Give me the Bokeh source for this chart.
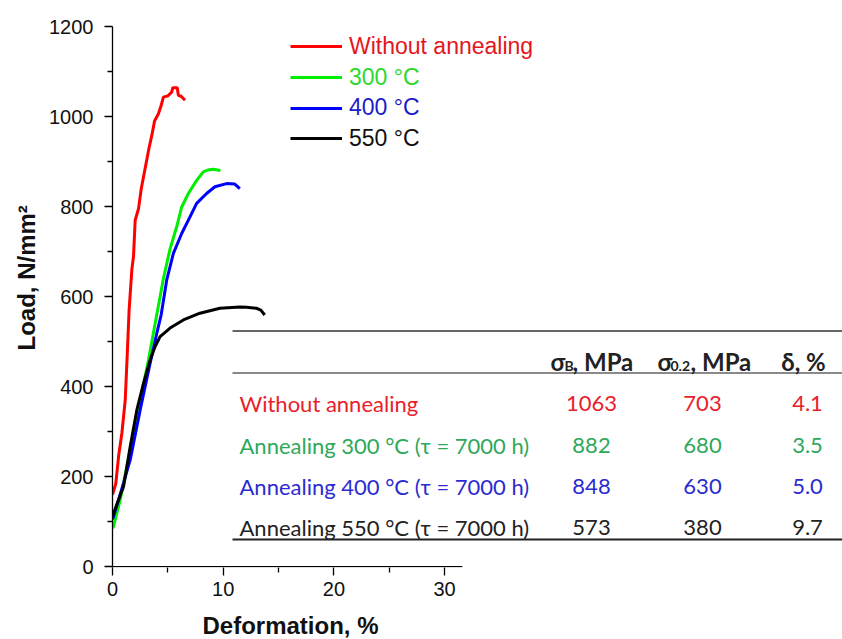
import numpy as np
from bokeh.plotting import figure
from bokeh.models import Range1d, FixedTicker, Legend, LegendItem, Label, Title
from bokeh.embed import file_html
from bokeh.resources import INLINE

# ---------------- data ----------------
red_x = [0, 0.1, 0.3, 0.55, 0.85, 1.15, 1.35, 1.5, 1.75, 1.9, 2.05, 2.35, 2.6, 2.95, 3.3, 3.55,
         3.8, 4.15, 4.4, 4.6, 5.0, 5.35, 5.45, 5.85, 5.95, 6.2, 6.55]
red_y = [160, 168, 185, 245, 297, 370, 481, 570, 660, 690, 770, 795, 840, 885, 930, 958,
         990, 1006, 1025, 1043, 1046, 1054, 1064, 1064, 1047, 1045, 1036]

green_x = [0, 0.1, 0.7, 1.6, 2.5, 3.25, 4.0, 4.6, 5.2, 5.8, 6.25, 6.85, 7.6, 8.2, 8.6, 9.1, 9.75]
green_y = [85, 90, 149, 260, 370, 459, 560, 640, 706, 755, 799, 829, 858, 877, 881, 883, 880]

blue_x = [0, 0.1, 1.0, 1.6, 2.5, 3.4, 4.0, 4.4, 4.9, 5.5, 6.25, 7.0, 7.6, 8.5, 9.25, 10.3, 11.05, 11.5]
blue_y = [105, 112, 186, 237, 348, 452, 518, 560, 637, 696, 740, 777, 807, 829, 844, 851, 850, 840]

black_x = [0, 0.1, 1.0, 1.6, 2.2, 2.8, 3.4, 3.85, 4.3, 5.2, 6.4, 7.9, 9.7, 11.5, 12.1, 13.0, 13.4, 13.75]
black_y = [110, 119, 178, 267, 348, 407, 459, 489, 511, 530, 548, 563, 574, 577, 576, 574, 570, 559]

legend_labels = ["Without annealing", "300 °C", "400 °C", "550 °C"]

x_ticks = [0, 10, 20, 30]
x_minor = [5, 15, 25]
y_ticks = [0, 200, 400, 600, 800, 1000, 1200]
y_minor = [100, 300, 500, 700, 900, 1100]

table_rows = ["Without annealing", "Annealing 300 °C (τ = 7000 h)",
              "Annealing 400 °C (τ = 7000 h)", "Annealing 550 °C (τ = 7000 h)"]
sigma_b = ["1063", "882", "848", "573"]
sigma_02 = ["703", "680", "630", "380"]
delta = ["4.1", "3.5", "5.0", "9.7"]

# ---------------- styles / layout ----------------
line_colors = ["#ff0000", "#00ee00", "#0000ff", "#000000"]
legend_text_colors = ["#e3161e", "#2cd82c", "#1c1cc8", "#111111"]
table_colors = ["#e8202a", "#2ea85b", "#2b2bd1", "#222222"]

W, H = 842, 639
LEFT, TOP, BOTTOM, RIGHT = 112, 26, 72, 0
Y_START, Y_END = -2, 1200
PX_PER_X = 11.07
FRAME_W = W - LEFT - RIGHT
FRAME_H = H - TOP - BOTTOM
X_END = FRAME_W / PX_PER_X
X_AXIS_END = 31.6

# page pixel -> data helpers (the page has no body margin)
FX0 = LEFT
FY_TOP = TOP
FY_BOT = FY_TOP + FRAME_H


def dx(px):
    return (px - FX0) / FRAME_W * X_END


def dy(py):
    return Y_START + (FY_BOT - py) / FRAME_H * (Y_END - Y_START)


ARIAL = "Liberation Sans"
TFONT = "Lato"

p = figure(width=W, height=H, output_backend="svg", toolbar_location=None,
           x_range=Range1d(0, X_END), y_range=Range1d(Y_START, Y_END),
           min_border_left=LEFT, min_border_right=RIGHT,
           min_border_top=TOP, min_border_bottom=BOTTOM)
p.outline_line_color = None
p.xgrid.visible = False
p.ygrid.visible = False

# axes
p.xaxis.ticker = FixedTicker(ticks=x_ticks, minor_ticks=x_minor)
p.yaxis.ticker = FixedTicker(ticks=y_ticks, minor_ticks=y_minor)
for ax in (p.xaxis[0], p.yaxis[0]):
    ax.major_tick_out = 8
    ax.major_tick_in = 0
    ax.minor_tick_out = 5
    ax.minor_tick_in = 0
    ax.major_tick_line_color = "black"
    ax.minor_tick_line_color = "black"
    ax.major_tick_line_width = 1.3
    ax.minor_tick_line_width = 1.3
    ax.major_label_text_font = ARIAL
    ax.major_label_text_font_size = "20px"
    ax.major_label_text_color = "#111111"
p.xaxis.axis_line_color = None
p.xaxis.major_label_standoff = 6
# reserve a little extra room under the tick labels so the title below sits lower
p.xaxis.axis_label = " "
p.xaxis.axis_label_text_font_size = "2px"
p.xaxis.axis_label_standoff = 6
p.yaxis.major_label_standoff = 11
p.yaxis.axis_line_color = "black"
p.yaxis.axis_line_width = 1.3

# x axis line only up to 31.6
p.line(x=[0, X_AXIS_END], y=[0, 0], line_color="black", line_width=1.4)

# axis titles (as side titles so they can be offset like the reference)
p.add_layout(Title(text="Deformation, %", align="left", offset=90, standoff=0,
                   text_font=ARIAL, text_font_style="bold", text_font_size="24px",
                   text_color="#111111"), "below")
p.add_layout(Title(text="Load, N/mm²", align="left", offset=217, standoff=14,
                   text_font=ARIAL, text_font_style="bold", text_font_size="24px",
                   text_color="#111111"), "left")

# curves
series = [(red_x, red_y), (green_x, green_y), (blue_x, blue_y), (black_x, black_y)]
renderers = []
for (xs, ys), c in zip(series, line_colors):
    r = p.line(x=xs, y=ys, line_color=c, line_width=3)
    renderers.append(r)

# legend: one Legend per item so that each label can have its own colour
legend_row_centers = [46.5, 77.5, 108, 138.5]
ITEM_H = 26
for i, r in enumerate(renderers):
    yc = legend_row_centers[i]
    leg = Legend(items=[LegendItem(label=legend_labels[i], renderers=[r])],
                 location=(290 - FX0, FY_BOT - (yc + ITEM_H / 2)),
                 margin=0, padding=0, spacing=0,
                 glyph_width=52, glyph_height=ITEM_H, label_height=ITEM_H,
                 label_standoff=7, border_line_alpha=0, background_fill_alpha=0,
                 label_text_font=ARIAL, label_text_font_size="23px",
                 label_text_color=legend_text_colors[i], label_text_baseline="middle")
    p.add_layout(leg)

# table
TX0 = 232
p.segment(x0=[dx(TX0)], y0=[dy(330.5)], x1=[X_END], y1=[dy(330.5)], line_color="#333333", line_width=1.5)
p.segment(x0=[dx(TX0)], y0=[dy(372.5)], x1=[X_END], y1=[dy(372.5)], line_color="#8a8a8a", line_width=2)
p.segment(x0=[dx(TX0)], y0=[dy(539)], x1=[X_END], y1=[dy(539)], line_color="#222222", line_width=2)

HB = 361  # header baseline


def tlabel(px, py, text, color="#222222", size="22px", style="normal", align="left"):
    p.add_layout(Label(x=dx(px), y=dy(py), text=text, text_font=TFONT,
                       text_font_size=size, text_font_style=style, text_color=color,
                       text_align=align, text_baseline="alphabetic"))


tlabel(550, HB, "σ", size="24px", style="bold")
tlabel(564, HB + 4, "B", size="14px", style="bold")
tlabel(572, HB, ", MPa", size="24px", style="bold")
tlabel(657, HB, "σ", size="24px", style="bold")
tlabel(670, HB + 4, "0.2", size="14px", style="bold")
tlabel(690, HB, ", MPa", size="24px", style="bold")
tlabel(803, HB, "δ, %", size="24px", style="bold", align="center")

row_baselines = [403, 444.5, 486, 527]
for i in range(4):
    yb = row_baselines[i]
    c = table_colors[i]
    tlabel(239, yb, table_rows[i], color=c)
    tlabel(591, yb, sigma_b[i], color=c, align="center")
    tlabel(702, yb, sigma_02[i], color=c, align="center")
    tlabel(807, yb, delta[i], color=c, align="center")

open("out.html", "w").write(file_html(p, INLINE))
